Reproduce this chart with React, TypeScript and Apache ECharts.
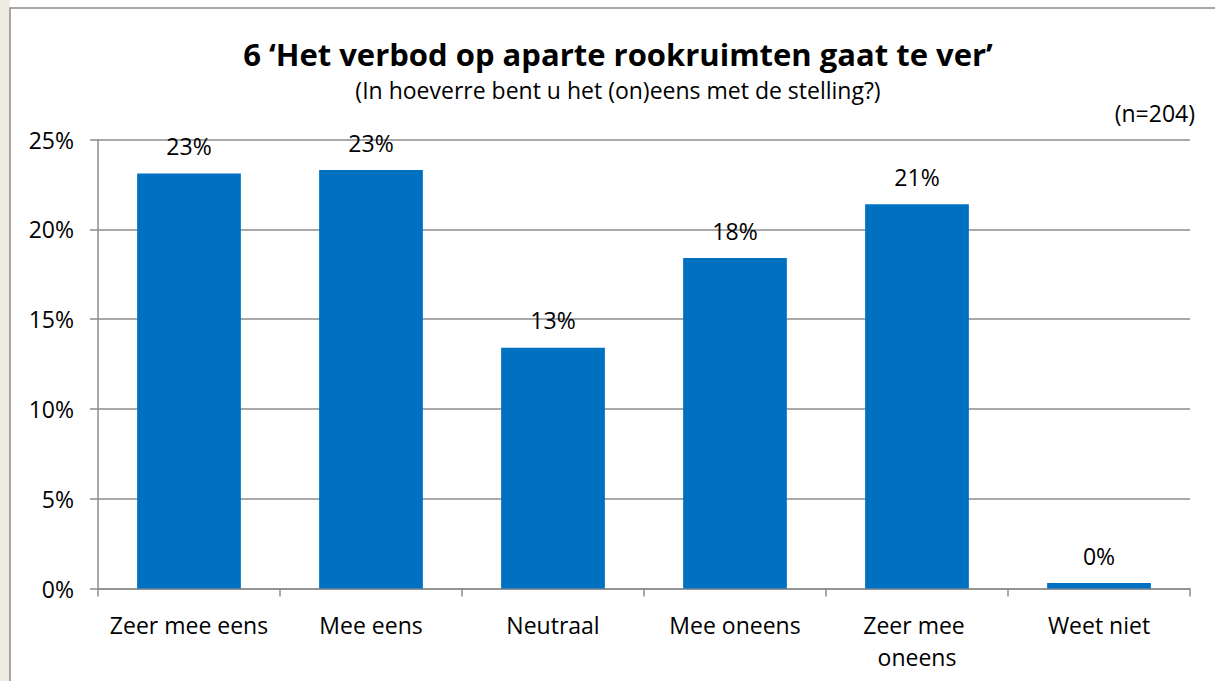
import React, { useEffect, useRef } from "react";
import * as echarts from "echarts";

const categories = ["Zeer mee eens", "Mee eens", "Neutraal", "Mee oneens", "Zeer mee oneens", "Weet niet"];
const values = [23.1, 23.3, 13.4, 18.4, 21.4, 0.3];
const yTicks = [0, 5, 10, 15, 20, 25];
const titleText = "6 \u2018Het verbod op aparte rookruimten gaat te ver\u2019";
const subtitleText = "(In hoeverre bent u het (on)eens met de stelling?)";
const nText = "(n=204)";

const FONT = "'Open Sans', 'Noto Sans', sans-serif";
const FS = 23;

export default function App() {
  const ref = useRef<HTMLDivElement>(null);
  useEffect(() => {
    if (!ref.current) return;
    const chart = echarts.init(ref.current, null, { renderer: "svg" });
    chart.setOption({
      animation: false,
      backgroundColor: "#ffffff",
      textStyle: { fontFamily: FONT, color: "#000" },
      graphic: [
        { type: "rect", shape: { x: 0, y: 0, width: 10, height: 681 }, style: { fill: "#EEECE1" }, z: -10 },
        {
          type: "rect",
          shape: { x: 10, y: 8, width: 1220, height: 700 },
          style: { fill: "#ffffff", stroke: "#8C8C8C", lineWidth: 1.5 },
          z: -9,
        },
      ],
      title: [
        {
          text: titleText,
          left: 613,
          textAlign: "center",
          top: 33,
          textStyle: { fontFamily: FONT, fontSize: 31, fontWeight: "bold", color: "#000" },
        },
        {
          text: subtitleText,
          left: 613,
          textAlign: "center",
          top: 73,
          textStyle: { fontFamily: FONT, fontSize: FS, fontWeight: "normal", color: "#000" },
        },
        {
          text: nText,
          right: 15,
          top: 96,
          textStyle: { fontFamily: FONT, fontSize: FS, fontWeight: "normal", color: "#000" },
        },
      ],
      grid: { left: 98, right: 25, top: 139.5, bottom: 92.5, containLabel: false },
      xAxis: {
        type: "category",
        data: categories,
        axisLine: { show: true, lineStyle: { color: "#8C8C8C", width: 1.5 } },
        axisTick: { show: true, alignWithLabel: false, length: 8, lineStyle: { color: "#8C8C8C", width: 1.5 } },
        axisLabel: {
          interval: 0,
          margin: 20,
          fontFamily: FONT,
          fontSize: FS,
          color: "#000",
          width: 175,
          overflow: "break",
          lineHeight: 32,
        },
      },
      yAxis: {
        type: "value",
        min: yTicks[0],
        max: yTicks[yTicks.length - 1],
        interval: 5,
        axisLine: { show: true, lineStyle: { color: "#8C8C8C", width: 1.5 } },
        axisTick: { show: true, length: 8, lineStyle: { color: "#8C8C8C", width: 1.5 } },
        splitLine: { show: true, lineStyle: { color: "#8C8C8C", width: 1.5 } },
        axisLabel: {
          margin: 24,
          fontFamily: FONT,
          fontSize: FS,
          color: "#000",
          formatter: (v: number) => v + "%",
        },
      },
      series: [
        {
          type: "bar",
          data: values,
          barWidth: "57%",
          itemStyle: { color: "#0070C0" },
          label: {
            show: true,
            position: "top",
            distance: 16,
            fontFamily: FONT,
            fontSize: FS,
            color: "#000",
            formatter: (p: any) => Math.round(p.value) + "%",
          },
        },
      ],
    });
    return () => chart.dispose();
  }, []);
  return (
    <div style={{ position: "fixed", left: 0, top: 0, width: 1215, height: 681 }}>
      <div ref={ref} style={{ width: 1215, height: 681 }} />
    </div>
  );
}
